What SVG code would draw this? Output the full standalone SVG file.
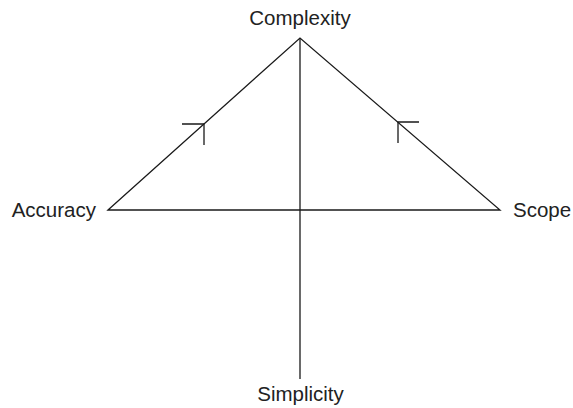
<svg xmlns="http://www.w3.org/2000/svg" width="573" height="408" viewBox="0 0 573 408">
<style>
.l{stroke:#1a1a1a;stroke-width:1.3;fill:none}
.t{font-family:"Liberation Sans",Arial,sans-serif;font-size:20.5px;fill:#222}
</style>
<rect width="573" height="408" fill="#fff"/>
<g id="connectors">
<path class="l" d="M108 210 L300 38 L500 210 Z"/>
<path class="l" d="M300 38 V379"/>
<path class="l" d="M182 124 H204 V145"/>
<path class="l" d="M419 122 H398 V143"/>
</g>
<g id="complexity"><text class="t" x="300" y="25" text-anchor="middle">Complexity</text></g>
<g id="accuracy"><text class="t" x="96" y="217" text-anchor="end">Accuracy</text></g>
<g id="scope"><text class="t" x="513" y="217">Scope</text></g>
<g id="simplicity"><text class="t" x="300.5" y="401" text-anchor="middle">Simplicity</text></g>
</svg>
